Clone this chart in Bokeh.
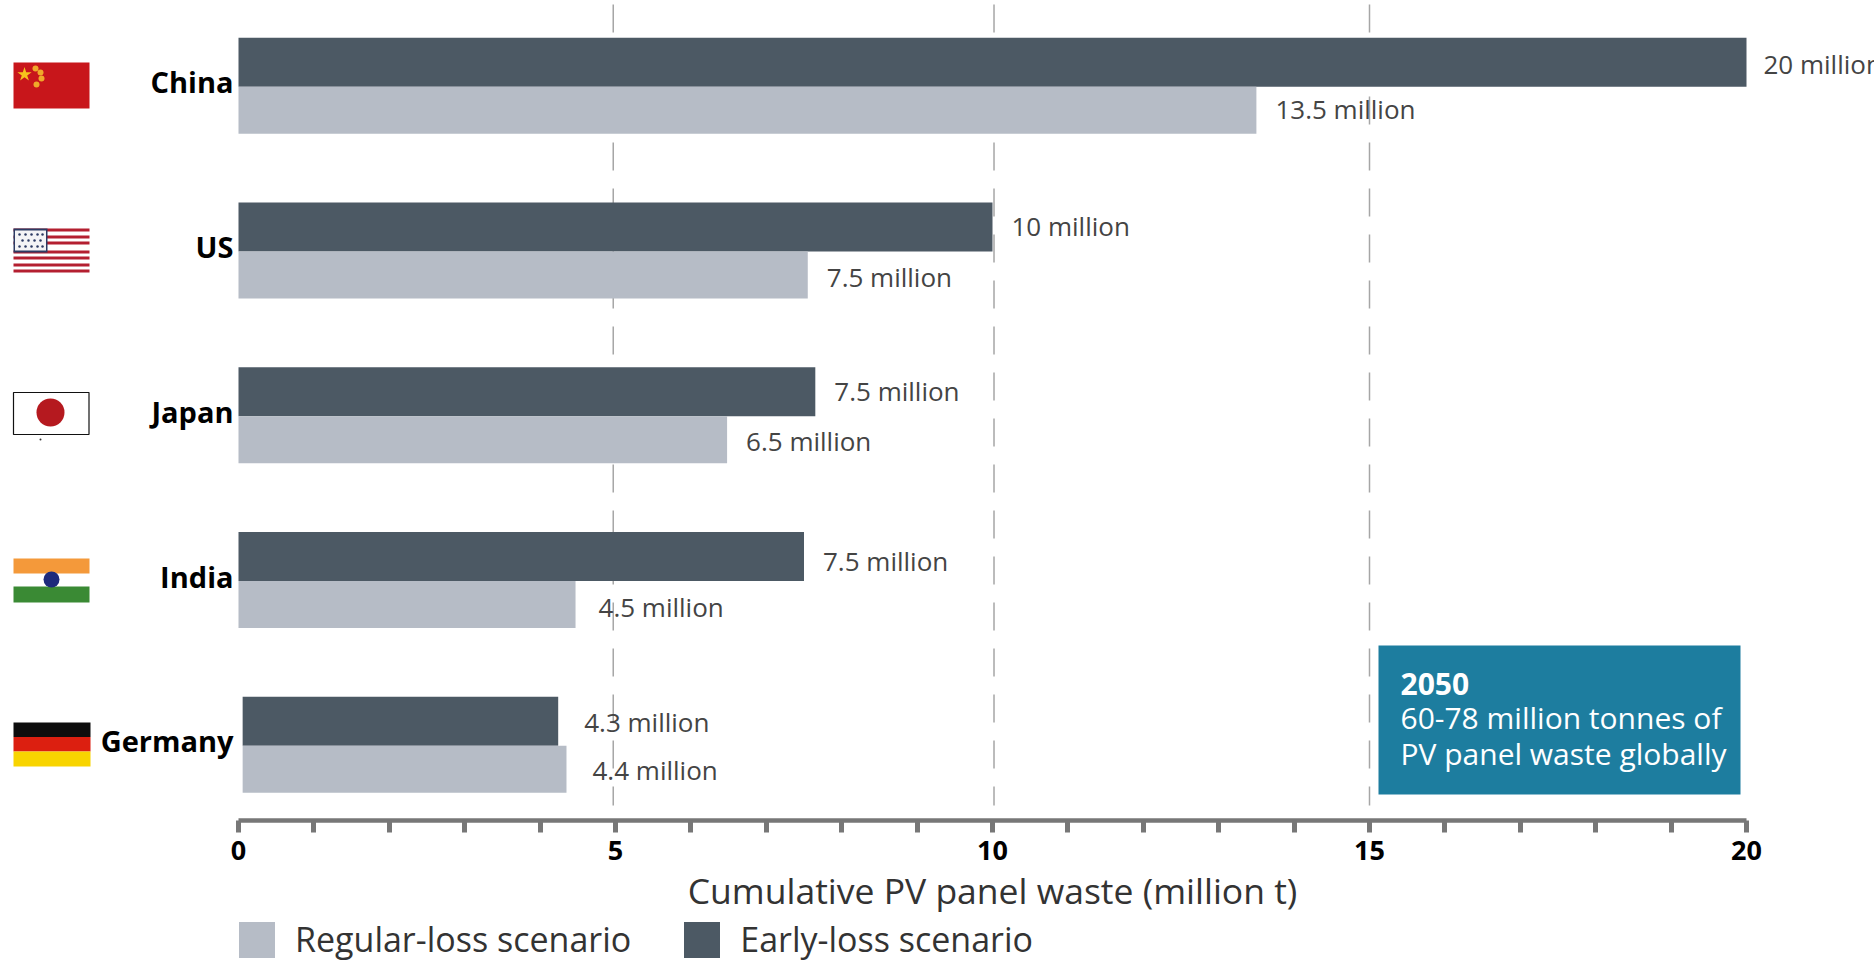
from bokeh.plotting import figure
from bokeh.models import Range1d, FixedTicker, Legend, LegendItem, ColumnDataSource
from bokeh.core.properties import value
from bokeh.embed import file_html
from bokeh.resources import INLINE

# ---- data ----
countries = ["China", "US", "Japan", "India", "Germany"]
early_loss = [20.0, 10.0, 7.65, 7.5, 4.24]
regular_loss = [13.5, 7.55, 6.48, 4.47, 4.35]
bar_start = [0, 0, 0, 0, 0.055]
early_labels = ["20 million", "10 million", "7.5 million", "7.5 million", "4.3 million"]
regular_labels = ["13.5 million", "7.5 million", "6.5 million", "4.5 million", "4.4 million"]
major_ticks = [0, 5, 10, 15, 20]
minor_ticks = [1, 2, 3, 4, 6, 7, 8, 9, 11, 12, 13, 14, 16, 17, 18, 19]
dashed_ticks = [4.97, 10.02, 15]
series_names = ["Regular-loss scenario", "Early-loss scenario"]
axis_title = "Cumulative PV panel waste (million t)"
note_lines = ["2050", "60-78 million tonnes of", "PV panel waste globally"]

# ---- style ----
DARK, LIGHT = "#4c5964", "#b6bcc6"
TEAL = "#1d7d9f"
AXIS = "#777777"
FONT = "Open Sans"
W, H = 1874, 962
X0, X20 = 238.0, 1746.0           # page px of x=0 and x=20
UNIT = (X20 - X0) / 20
ROW0, ROW_STEP = 86.3, 164.75     # page px of first row boundary and spacing
AXIS_Y = 820.0


def fx(px):
    return (px - X0) / UNIT


def fy(py):
    return (py - ROW0) / ROW_STEP


p = figure(
    width=W, height=H, output_backend="svg", toolbar_location=None,
    x_range=Range1d(fx(0), fx(W)), y_range=Range1d(fy(H), fy(0)),
    y_axis_location=None, min_border_left=0, min_border_right=0,
    min_border_top=0, min_border_bottom=0,
    outline_line_color=None, background_fill_color="white",
)
p.grid.visible = False

# dashed reference lines
p.segment(x0=dashed_ticks, x1=dashed_ticks, y0=[fy(4)] * 3, y1=[fy(805)] * 3,
          line_color="#a6a6a6", line_width=1.5, line_dash="28 18")

# bars
rows = list(range(len(countries)))
h_early, h_reg = 49 / ROW_STEP, 47 / ROW_STEP
r_early = p.hbar(y=[r - h_early / 2 for r in rows], left=bar_start, right=early_loss,
                 height=h_early, fill_color=DARK, line_color=None)
r_reg = p.hbar(y=[r + h_reg / 2 for r in rows], left=bar_start, right=regular_loss,
               height=h_reg, fill_color=LIGHT, line_color=None)

# value labels
early_dx = [17, 19, 19, 19, 26]
early_dy = [2, -1, -1, 4, 1]
regular_dx = [19, 19, 19, 23, 26]
regular_dy = [-1, 2, 1, 2, 1]
label_src = ColumnDataSource(dict(
    x=early_loss + regular_loss,
    y=[r - h_early / 2 for r in rows] + [r + h_reg / 2 for r in rows],
    t=early_labels + regular_labels,
    dx=early_dx + regular_dx,
    dy=early_dy + regular_dy,
))
p.text(x="x", y="y", text="t", x_offset="dx", y_offset="dy", source=label_src,
       text_font=value(FONT), text_font_size="26px", text_color="#444444",
       text_baseline="middle", text_align="left")

# country labels
p.text(x=[0] * 5, y=[r - 0.03 for r in rows], text=countries, x_offset=-5,
       text_font=value(FONT), text_font_style="bold", text_font_size="29px",
       text_color="#000000", text_align="right", text_baseline="middle")

# note box
p.quad(left=[fx(1378)], right=[fx(1740)], top=[fy(645)], bottom=[fy(794)],
       fill_color=TEAL, line_color=None)
for line, py, bold in zip(note_lines, [683, 717, 753], [True, False, False]):
    p.text(x=[fx(1400)], y=[fy(py)], text=[line], text_font=value(FONT),
           text_font_style="bold" if bold else "normal", text_font_size="30px",
           text_color="#ffffff", text_baseline="middle", text_align="left")


def band(x0, x1, y0, y1, color):
    p.quad(left=[fx(x0)], right=[fx(x1)], top=[fy(y0)], bottom=[fy(y1)],
           fill_color=color, line_color=None)


# flags (decoration, page px)
# China
band(13, 89, 62, 108, "#c8161b")
p.scatter(x=[fx(24)], y=[fy(74)], marker="star", size=15, fill_color="#f6c21c", line_color=None)
p.scatter(x=[fx(x) for x in (35, 40, 41, 36)], y=[fy(y) for y in (68, 72, 78, 84)],
          marker="circle", size=6, fill_color="#f0a92a", line_color=None)
# US
band(13, 89, 228, 272, "#ffffff")
for y0 in (228, 235, 241, 250, 256, 263, 269):
    band(13, 89, y0, y0 + 3, "#b41f30")
band(13, 47, 228, 252, "#2c3a63")
band(14.5, 45.5, 230, 250, "#f4f4f6")
p.scatter(x=[fx(x) for x in (19, 25, 31, 37, 42, 22, 28, 34, 40, 19, 25, 31, 37, 42)],
          y=[fy(y) for y in (234, 234, 234, 234, 234, 240, 240, 240, 240, 246, 246, 246, 246, 246)],
          marker="circle", size=2.5, fill_color="#2c3a63", line_color=None)
# Japan
p.quad(left=[fx(13)], right=[fx(88.5)], top=[fy(392)], bottom=[fy(434)],
       fill_color="#ffffff", line_color="#111111", line_width=1.2)
p.scatter(x=[fx(50)], y=[fy(412)], marker="circle", size=28, fill_color="#b5191f", line_color=None)
p.scatter(x=[fx(40)], y=[fy(439)], marker="circle", size=2, fill_color="#333333", line_color=None)
# India
band(13, 89, 558, 573, "#f4993a")
band(13, 89, 586, 602, "#3a8a34")
p.scatter(x=[fx(51)], y=[fy(579)], marker="circle", size=16, fill_color="#1d2a7c", line_color=None)
# Germany
band(13, 90, 722, 736.5, "#0d0d0d")
band(13, 90, 736.5, 751, "#dc1f10")
band(13, 90, 751, 766, "#f8d400")

# x axis
ax = p.xaxis[0]
ax.bounds = (0, 20)
ax.fixed_location = fy(AXIS_Y)
ax.ticker = FixedTicker(ticks=major_ticks, minor_ticks=minor_ticks)
ax.axis_line_color = AXIS
ax.axis_line_width = 4.5
ax.major_tick_line_color = AXIS
ax.major_tick_line_width = 5
ax.major_tick_in = 0
ax.major_tick_out = 12
ax.minor_tick_line_color = AXIS
ax.minor_tick_line_width = 5
ax.minor_tick_in = 0
ax.minor_tick_out = 12
ax.major_label_text_font = FONT
ax.major_label_text_font_style = "bold"
ax.major_label_text_font_size = "27px"
ax.major_label_text_color = "#000000"
ax.major_label_standoff = 8

# axis title, centred on the middle of the scale
p.text(x=[10], y=[fy(889)], text=[axis_title], text_font=value(FONT),
       text_font_size="35.5px", text_color="#333333",
       text_align="center", text_baseline="middle")

# legend
legend = Legend(
    items=[LegendItem(label=series_names[0], renderers=[r_reg]),
           LegendItem(label=series_names[1], renderers=[r_early])],
    orientation="horizontal", location=(234, 0), margin=0, padding=0, spacing=48,
    glyph_width=45, glyph_height=45, label_standoff=16,
    label_text_font=FONT, label_text_font_size="34px", label_text_color="#333333",
    background_fill_alpha=0, border_line_color=None,
)
p.add_layout(legend, "center")

open("out.html", "w").write(file_html(p, INLINE))
